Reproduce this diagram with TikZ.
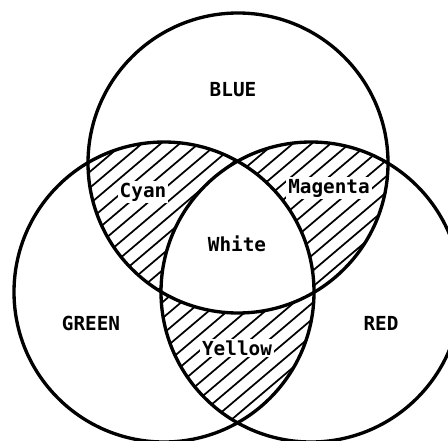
\documentclass[tikz,border=0pt]{standalone}
\usepackage{fontspec}
\setmonofont{DejaVu Sans Mono}
\begin{document}
\begin{tikzpicture}[x=0.75pt,y=0.75pt,
  circ/.style={line width=2.5pt},
  hatch/.style={line width=1.3pt},
  lbl/.style={font=\ttfamily\bfseries\fontsize{14.5}{16}\selectfont, inner sep=1.5pt},
  hlbl/.style={lbl, fill=white}]
\useasboundingbox (0,0) rectangle (448,440);
\clip (0,0) rectangle (448,440);
\coordinate (B) at (238,277);
\coordinate (G) at (164,148);
\coordinate (R) at (311,148);
\def\rad{150}
% hatching of the pairwise overlaps
\begin{scope}
  \clip (B) circle[radius=\rad];
  \clip (G) circle[radius=\rad];
  \foreach \c in {-400,-384,...,440} \draw[hatch] (0,\c) -- (448,380+\c);
\end{scope}
\begin{scope}
  \clip (B) circle[radius=\rad];
  \clip (R) circle[radius=\rad];
  \foreach \c in {-400,-384,...,440} \draw[hatch] (0,\c) -- (448,380+\c);
\end{scope}
\begin{scope}
  \clip (G) circle[radius=\rad];
  \clip (R) circle[radius=\rad];
  \foreach \c in {-400,-384,...,440} \draw[hatch] (0,\c) -- (448,380+\c);
\end{scope}
% white centre
\begin{scope}
  \clip (B) circle[radius=\rad];
  \clip (G) circle[radius=\rad];
  \fill[white] (R) circle[radius=\rad];
\end{scope}
% outlines
\draw[circ] (B) circle[radius=\rad];
\draw[circ] (G) circle[radius=\rad];
\draw[circ] (R) circle[radius=\rad];
% labels
\node[lbl] (blue) at (233,350) {BLUE};
\node[lbl] (green) at (91,117) {GREEN};
\node[lbl] (red) at (381,117) {RED};
\node[lbl] (white) at (237,196) {White};
\node[hlbl] (cyan) at (143,248) {Cyan};
\node[hlbl] (magenta) at (329,252) {Magenta};
\node[hlbl] (yellow) at (237,92) {Yellow};
\end{tikzpicture}
\end{document}
